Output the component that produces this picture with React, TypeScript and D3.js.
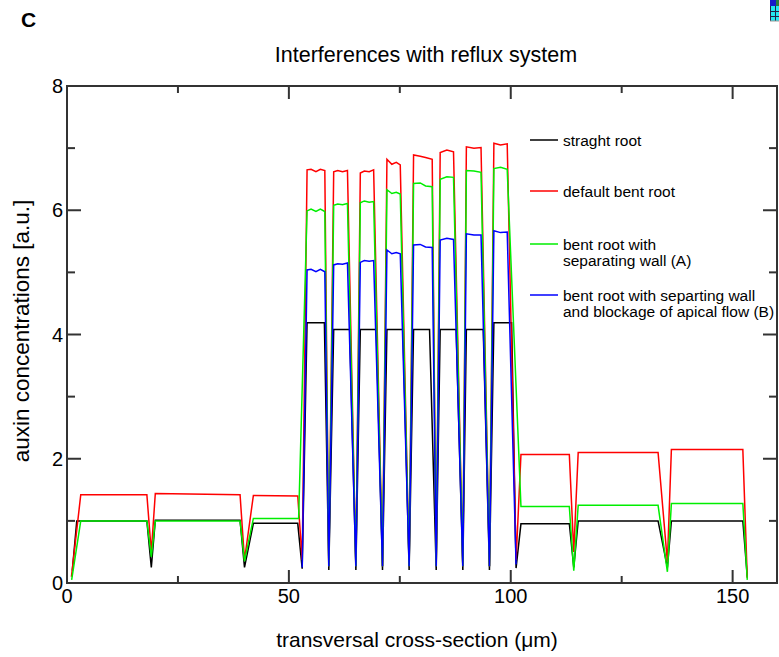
import React from "react";
import * as d3 from "d3";

type Pt = [number, number];

// Auxin concentration profiles along the transversal cross-section (µm, a.u.)
const straightRoot: Pt[] = [
  [1.2, 0.2], [2.2, 1.0], [18.0, 1.0], [19.0, 0.25], [19.9, 1.01], [39.0, 1.01], [40.0, 0.25],
  [42.0, 0.96], [52.0, 0.96], [53.0, 0.23],
  [54.1, 4.19], [58.0, 4.19], [59.0, 0.21],
  [60.1, 4.08], [63.7, 4.08], [65.1, 0.21],
  [66.1, 4.08], [69.7, 4.08], [71.1, 0.21],
  [72.1, 4.08], [75.7, 4.08], [77.1, 0.21],
  [78.1, 4.08], [81.7, 4.08], [83.2, 0.21],
  [84.1, 4.08], [87.7, 4.08], [89.2, 0.21],
  [90.0, 4.08], [93.8, 4.08], [95.2, 0.21],
  [96.2, 4.19], [100.2, 4.19], [101.2, 0.24],
  [102.3, 0.955], [113.2, 0.955], [114.2, 0.25], [115.2, 1.0], [133.2, 1.0], [135.3, 0.25],
  [136.2, 1.0], [152.3, 1.0], [153.3, 0.1],
];

const defaultBentRoot: Pt[] = [
  [1.0, 0.1], [3.1, 1.42], [18.0, 1.42], [19.0, 0.5], [19.9, 1.44], [39.0, 1.42], [40.0, 0.37],
  [42.0, 1.41], [52.0, 1.4], [53.0, 0.37],
  [54.1, 6.65], [55.0, 6.66], [56.1, 6.62], [57.1, 6.66], [58.1, 6.64], [59.0, 0.27],
  [60.1, 6.62], [61.0, 6.64], [62.1, 6.62], [63.2, 6.64], [65.1, 0.27],
  [66.1, 6.6], [67.0, 6.63], [68.1, 6.62], [69.1, 6.65], [71.1, 0.27],
  [72.1, 6.82], [73.2, 6.74], [74.2, 6.77], [75.1, 6.73], [77.1, 0.27],
  [78.1, 6.89], [79.6, 6.87], [80.8, 6.85], [82.3, 6.82], [83.2, 0.27],
  [84.1, 6.93], [85.6, 6.97], [87.1, 6.94], [89.2, 0.27],
  [90.0, 7.02], [91.7, 7.0], [93.3, 7.01], [95.2, 0.27],
  [96.2, 7.08], [97.7, 7.05], [99.2, 7.07], [101.2, 0.37],
  [102.3, 2.07], [113.2, 2.07], [114.2, 0.5], [115.2, 2.1], [133.2, 2.1], [135.3, 0.34],
  [136.2, 2.15], [152.3, 2.15], [153.3, 0.08],
];

const separatingWallA: Pt[] = [
  [1.05, 0.05], [3.1, 1.0], [18.0, 1.0], [19.0, 0.42], [19.9, 1.0], [39.0, 1.0], [40.0, 0.35],
  [42.0, 1.04], [52.2, 1.04],
  [54.1, 5.99], [55.0, 6.02], [56.1, 5.98], [57.1, 6.02], [58.1, 5.98], [59.0, 0.27],
  [60.1, 6.08], [61.0, 6.1], [62.1, 6.09], [63.2, 6.11], [65.1, 0.27],
  [66.1, 6.12], [67.0, 6.15], [68.1, 6.13], [69.1, 6.14], [71.1, 0.27],
  [72.1, 6.33], [73.2, 6.27], [74.2, 6.29], [75.1, 6.26], [77.1, 0.27],
  [78.1, 6.43], [79.6, 6.44], [80.8, 6.39], [82.3, 6.38], [83.2, 0.27],
  [84.1, 6.5], [85.6, 6.54], [87.1, 6.53], [89.2, 0.27],
  [90.0, 6.64], [91.7, 6.63], [93.3, 6.61], [95.2, 0.27],
  [96.2, 6.67], [97.7, 6.69], [99.2, 6.66],
  [102.3, 1.23], [113.2, 1.23], [114.2, 0.2], [115.2, 1.25], [133.2, 1.25], [135.3, 0.18],
  [136.2, 1.28], [152.3, 1.28], [153.3, 0.05],
];

const blockageB: Pt[] = [
  [53.0, 0.25],
  [54.1, 5.04], [55.0, 5.05], [56.1, 5.01], [57.1, 5.05], [58.1, 5.01], [59.0, 0.27],
  [60.1, 5.12], [61.0, 5.14], [62.1, 5.13], [63.2, 5.15], [65.1, 0.27],
  [66.1, 5.16], [67.0, 5.19], [68.1, 5.18], [69.1, 5.19], [71.1, 0.27],
  [72.1, 5.36], [73.2, 5.3], [74.2, 5.32], [75.1, 5.3], [77.1, 0.27],
  [78.1, 5.44], [79.6, 5.45], [80.8, 5.41], [82.3, 5.4], [83.2, 0.27],
  [84.1, 5.52], [85.6, 5.55], [87.1, 5.53], [89.2, 0.27],
  [90.0, 5.62], [91.7, 5.6], [93.3, 5.6], [95.2, 0.27],
  [96.2, 5.67], [97.7, 5.64], [99.2, 5.65], [101.2, 0.3],
];

const seriesNames = [
  ["straght root"],
  ["default bent root"],
  ["bent root with", "separating wall (A)"],
  ["bent root with separting wall", "and blockage of apical flow (B)"],
];
const seriesColors = ["#000000", "#ff0000", "#00ee00", "#0000ff"];
const seriesData = [straightRoot, defaultBentRoot, separatingWallA, blockageB];

const xMajorTicks = [0, 50, 100, 150];
const xMinorTicks = [25, 75, 125];
const yMajorTicks = [0, 2, 4, 6, 8];
const yMinorTicks = [1, 3, 5, 7];

const FONT = "'Liberation Sans', Arial, Helvetica, sans-serif";

export default function App() {
  const left = 67, right = 777, top = 86, bottom = 583;
  const x = d3.scaleLinear().domain([0, 160]).range([left, right]);
  const y = d3.scaleLinear().domain([0, 8]).range([bottom, top]);
  const line = d3.line<Pt>().x(d => x(d[0])).y(d => y(d[1]));
  const axisColor = "#333";

  const legendY = [140, 191, 244, 295];

  return (
    <svg width={779} height={657} style={{ position: "absolute", left: 0, top: 0, background: "#fff" }}
      fontFamily={FONT}>
      <rect x={0} y={0} width={779} height={657} fill="#fff" />

      {/* corner swatch of the neighbouring colour scale */}
      <g>
        <rect x={770} y={0} width={6} height={6} fill="#1818c8" />
        <rect x={776} y={0} width={3} height={6} fill="#2b7a3a" />
        <rect x={770} y={6} width={9} height={15} fill="#22e8f0" />
        <line x1={770.5} y1={6} x2={770.5} y2={21} stroke="#224" strokeWidth={1} />
        <line x1={775.5} y1={6} x2={775.5} y2={21} stroke="#224" strokeWidth={1} />
        <line x1={770} y1={11.5} x2={779} y2={11.5} stroke="#224" strokeWidth={1} />
        <line x1={770} y1={16.5} x2={779} y2={16.5} stroke="#224" strokeWidth={1} />
        <line x1={770} y1={21} x2={779} y2={21} stroke="#999" strokeWidth={1} />
      </g>

      <text x={21} y={26.5} fontSize={21} fontWeight="bold">C</text>
      <text x={426} y={61.5} fontSize={21.5} textAnchor="middle">Interferences with reflux system</text>

      {/* data lines */}
      <g fill="none" strokeWidth={1.5} strokeLinejoin="miter">
        {seriesData.map((s, i) => (
          <path key={i} d={line(s) ?? ""} stroke={seriesColors[i]} />
        ))}
      </g>

      {/* frame */}
      <rect x={left} y={top} width={right - left} height={bottom - top} fill="none" stroke={axisColor} strokeWidth={2} />

      {/* ticks */}
      <g stroke={axisColor} strokeWidth={2}>
        {xMajorTicks.filter(t => t > 0).map(t => (
          <g key={"xM" + t}>
            <line x1={x(t)} x2={x(t)} y1={bottom} y2={bottom - 13} />
            <line x1={x(t)} x2={x(t)} y1={top} y2={top + 13} />
          </g>
        ))}
        {xMinorTicks.map(t => (
          <g key={"xm" + t}>
            <line x1={x(t)} x2={x(t)} y1={bottom} y2={bottom - 7} />
            <line x1={x(t)} x2={x(t)} y1={top} y2={top + 7} />
          </g>
        ))}
        {yMajorTicks.filter(t => t > 0 && t < 8).map(t => (
          <g key={"yM" + t}>
            <line x1={left} x2={left + 14} y1={y(t)} y2={y(t)} />
            <line x1={right} x2={right - 14} y1={y(t)} y2={y(t)} />
          </g>
        ))}
        {yMinorTicks.map(t => (
          <g key={"ym" + t}>
            <line x1={left} x2={left + 8} y1={y(t)} y2={y(t)} />
            <line x1={right} x2={right - 8} y1={y(t)} y2={y(t)} />
          </g>
        ))}
      </g>

      {/* tick labels */}
      <g fontSize={20} fill="#000">
        {xMajorTicks.map(t => (
          <text key={"xl" + t} x={x(t)} y={603} textAnchor="middle">{t}</text>
        ))}
        {yMajorTicks.map(t => (
          <text key={"yl" + t} x={63} y={y(t) + 7} textAnchor="end">{t}</text>
        ))}
      </g>

      {/* axis titles */}
      <text x={417} y={647} fontSize={21} textAnchor="middle">transversal cross-section (μm)</text>
      <text transform={`translate(29,331) rotate(-90)`} fontSize={22.5} textAnchor="middle">
        auxin concentrations [a.u.]
      </text>

      {/* legend */}
      <g fontSize={15.5}>
        {seriesNames.map((lines, i) => (
          <g key={"lg" + i}>
            <line x1={530} x2={558} y1={legendY[i]} y2={legendY[i]} stroke={seriesColors[i]} strokeWidth={1.5} />
            {lines.map((ln, j) => (
              <text key={j} x={563} y={legendY[i] + 6 + j * 16}>{ln}</text>
            ))}
          </g>
        ))}
      </g>
    </svg>
  );
}
